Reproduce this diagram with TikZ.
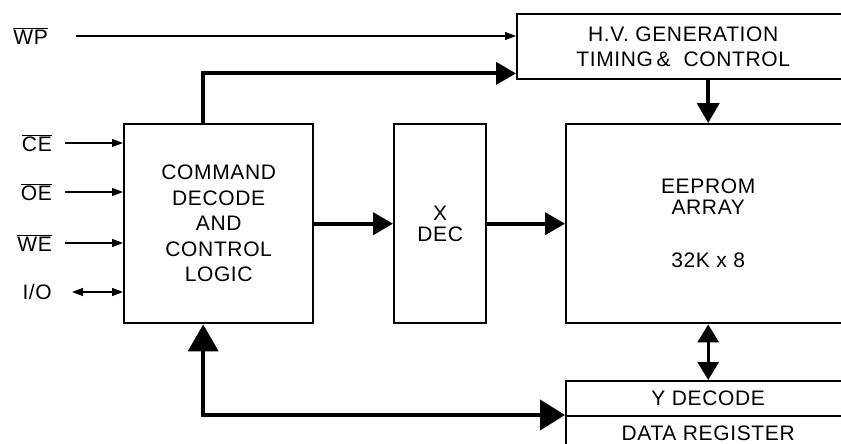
\documentclass[tikz,border=0pt]{standalone}
\usepackage{fontspec}
\setmainfont[LetterSpace=3]{Liberation Sans}
\usetikzlibrary{arrows.meta,positioning,calc}
\tikzset{
  blk/.style={draw,line width=2.4pt,rectangle,anchor=north west,inner sep=0pt,align=center},
  sig/.style={anchor=east,inner sep=0pt},
  thinarr/.style={line width=1.4pt,-{Triangle[length=11pt,width=8pt]}},
  bigarr/.style={line width=4pt,-{Triangle[length=20pt,width=22pt]}},
}
\begin{document}
\begin{tikzpicture}[x=1pt,y=-1pt,font=\fontsize{21}{25.5}\selectfont]
    \useasboundingbox (0,0) rectangle (841,444);
    \clip (0,0) rectangle (841,444);
    \node[blk,minimum width=332pt,minimum height=65pt] (hv) at (516,13) {};
    \node (hvtxt) at (hv.center) [align=center] {H.V. GENERATION\\TIMING\,\& \ CONTROL};
    \node[blk,minimum width=189pt,minimum height=199pt] (cmd) at (123,123) {COMMAND\\DECODE\\AND\\CONTROL\\LOGIC};
    \node[blk,minimum width=92pt,minimum height=199pt,font=\fontsize{21}{21}\selectfont] (xdec) at (393,123) {X\\DEC};
    \node[blk,minimum width=284pt,minimum height=199pt,font=\fontsize{21}{21}\selectfont] (arr) at (565,123) {EEPROM\\ARRAY\\[32pt]32K x 8};
    \node[blk,minimum width=284pt,minimum height=35pt] (ydec) at (565,380) {Y DECODE};
    \node[blk,minimum width=284pt,minimum height=34pt] (dreg) at (565,415) {DATA REGISTER};
    \node[sig] (wp) at (48,36) {$\overline{\mbox{WP}}$};
    \draw[thinarr] ([xshift=28pt]wp.east) -- (wp.east -| hv.west);
    \foreach \nm/\y/\txt in {ce/143/CE,oe/192/OE,we/243/WE}{
      \node[sig] (\nm) at (52,\y) {$\overline{\mbox{\txt}}$};
      \draw[thinarr] ([xshift=13pt]\nm.east) -- (\nm.east -| cmd.west);
    }
    \node[sig] (io) at (52,292) {I/O};
    \draw[thinarr,{Triangle[length=11pt,width=8pt]}-{Triangle[length=11pt,width=8pt]}] ([xshift=20pt]io.east) -- (io.east -| cmd.west);
    \draw[bigarr] ([xshift=-15.5pt]cmd.north) |- ([yshift=7pt]hv.south west);
    \draw[bigarr] (arr.north |- hv.south) -- (arr.north);
    \draw[bigarr] (cmd.east) -- (xdec.west);
    \draw[bigarr] (xdec.east) -- (arr.west);
    \draw[line width=3pt,{Triangle[length=18pt,width=21pt]}-{Triangle[length=18pt,width=21pt]}] (arr.south) -- (ydec.north);
    \draw[line width=4pt,{Triangle[length=27pt,width=30pt]}-{Triangle[length=25pt,width=30pt]}] ([xshift=-15.5pt]cmd.south) |- (dreg.north west);
  \end{tikzpicture}
\end{document}
